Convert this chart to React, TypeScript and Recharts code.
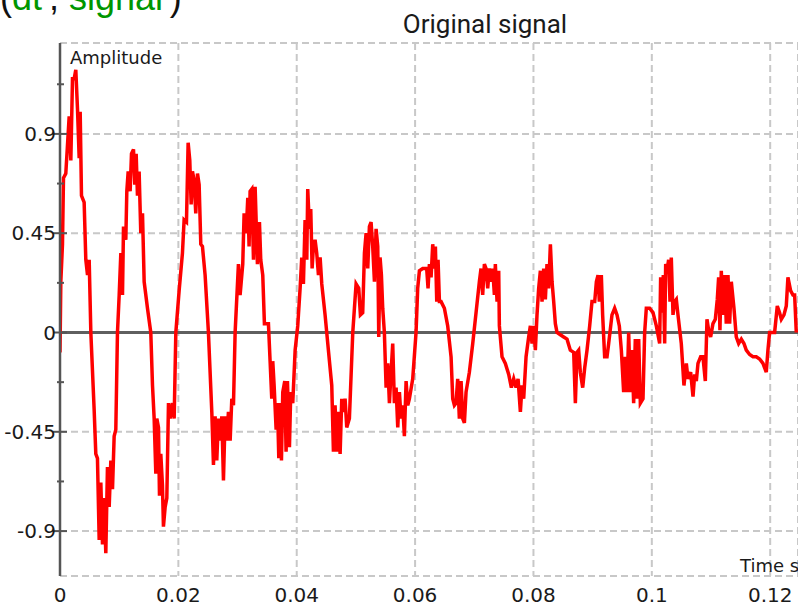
import { LineChart, Line, XAxis, YAxis, CartesianGrid, ReferenceLine } from 'recharts';

// axis setup
const xTicks = [0, 0.02, 0.04, 0.06, 0.08, 0.1, 0.12];
const yMajor = [-0.9, -0.45, 0, 0.45, 0.9];
const yMinor = [-0.675, -0.225, 0.225, 0.675, 1.125];
const yGrid = [-0.9, -0.45, 0.45, 0.9];
const xDomain = [0, 0.1247];
const yDomain = [-1.1035, 1.312];

// [time s, amplitude], one array per stretch of the trace
const part1 = [
  [0, -0.09], [0.00014, 0.23], [0.00042, 0.4], [0.00059, 0.7], [0.00098, 0.72],
  [0.00155, 0.98], [0.00183, 0.78], [0.00211, 1.15], [0.00239, 1.15], [0.00267, 1.19],
  [0.00296, 1.01], [0.00324, 0.79], [0.00341, 1.0], [0.00363, 0.62], [0.00408, 0.59],
  [0.00436, 0.33], [0.00465, 0.26], [0.00493, 0.33], [0.00521, 0], [0.00577, -0.35],
  [0.00605, -0.55], [0.00633, -0.57], [0.00662, -0.94], [0.0069, -0.68], [0.00718, -0.96],
  [0.00746, -0.75], [0.00774, -1.0], [0.00802, -0.61], [0.00831, -0.79], [0.00859, -0.58],
  [0.00887, -0.71], [0.00915, -0.47], [0.00943, -0.44], [0.00971, 0], [0.01, 0.17],
  [0.01028, 0.36], [0.01056, 0.17], [0.01073, 0.48], [0.01112, 0.42], [0.01129, 0.64],
  [0.01152, 0.73], [0.01185, 0.64], [0.01208, 0.81], [0.01242, 0.83], [0.01264, 0.67],
  [0.01287, 0.81], [0.01309, 0.62], [0.01337, 0.73], [0.01365, 0.45], [0.01394, 0.54],
  [0.01422, 0.23], [0.01478, 0.11], [0.01534, 0], [0.01563, -0.24], [0.01591, -0.39],
  [0.01619, -0.64], [0.01636, -0.39], [0.01664, -0.43], [0.01681, -0.74], [0.01703, -0.55],
  [0.01731, -0.69], [0.01748, -0.88], [0.01777, -0.79], [0.01805, -0.75], [0.01833, -0.32],
  [0.01861, -0.39], [0.019, -0.32], [0.01929, -0.39], [0.01957, 0], [0.02013, 0.19],
  [0.02069, 0.36], [0.02097, 0.51], [0.02137, 0.5], [0.02165, 0.86], [0.02193, 0.78],
  [0.02216, 0.58], [0.02238, 0.73], [0.02266, 0.69], [0.02294, 0.54], [0.02323, 0.72],
  [0.02351, 0.67], [0.02379, 0.4], [0.02407, 0.39],
];

const part2 = [
  [0.02452, 0.26], [0.02508, 0], [0.02565, -0.36], [0.02593, -0.6], [0.02621, -0.38],
  [0.02649, -0.58], [0.02677, -0.39], [0.02706, -0.49], [0.02734, -0.38], [0.02762, -0.67],
  [0.0279, -0.38], [0.02818, -0.49], [0.02846, -0.36], [0.02875, -0.49], [0.02903, -0.3],
  [0.02931, -0.33], [0.02959, 0], [0.03015, 0.31], [0.03043, 0.17], [0.03088, 0.31],
  [0.03111, 0.54], [0.03145, 0.45], [0.03173, 0.61], [0.03195, 0.39], [0.03212, 0.64],
  [0.0324, 0.65], [0.03269, 0.33], [0.03297, 0.66], [0.03314, 0.51], [0.03336, 0.31],
  [0.0337, 0.5], [0.03392, 0.33], [0.03426, 0.26], [0.03454, 0.04], [0.03522, 0.04],
  [0.0355, -0.13], [0.03578, -0.3], [0.03595, -0.13], [0.03618, -0.24], [0.03652, -0.44],
  [0.03674, -0.32], [0.03697, -0.57], [0.03719, -0.32], [0.03742, -0.58], [0.03764, -0.27],
  [0.03798, -0.22], [0.0382, -0.54], [0.03843, -0.22], [0.03877, -0.52], [0.03899, -0.27],
  [0.03933, -0.32], [0.03973, -0.08], [0.04017, 0.03], [0.04057, 0.2], [0.04085, 0.34],
  [0.04113, 0.22], [0.04141, 0.51], [0.0417, 0.33], [0.04186, 0.65], [0.04215, 0.47],
  [0.04237, 0.56], [0.0426, 0.29], [0.04282, 0.39], [0.0431, 0.42], [0.04338, 0.36],
  [0.04367, 0.26], [0.04395, 0.34], [0.04423, 0.22], [0.04479, 0.08], [0.04535, -0.08],
  [0.04592, -0.24], [0.0462, -0.54], [0.04648, -0.33], [0.04676, -0.54], [0.04704, -0.36],
  [0.04733, -0.55], [0.04761, -0.3], [0.04789, -0.36], [0.04817, -0.3], [0.04845, -0.43],
];

const part3 = [
  [0.0489, -0.39], [0.04947, 0], [0.04975, 0.11], [0.05003, 0.22], [0.05048, 0.2],
  [0.05076, 0.08], [0.05115, 0.09], [0.05144, 0.36], [0.05172, 0.45], [0.052, 0.29],
  [0.05228, 0.48], [0.05256, 0.5], [0.05284, 0.39], [0.05313, 0.23], [0.05341, 0.47],
  [0.05369, 0.39], [0.05386, -0.02], [0.05408, 0.34], [0.05431, 0.26], [0.05453, 0.11],
  [0.05481, 0], [0.0551, -0.25], [0.05538, -0.14], [0.05566, -0.32], [0.05594, -0.18],
  [0.05622, -0.05], [0.0565, -0.32], [0.05679, -0.25], [0.05707, -0.43], [0.05735, -0.27],
  [0.05763, -0.39], [0.05791, -0.33], [0.05819, -0.47], [0.05848, -0.22], [0.05876, -0.33],
  [0.05904, -0.3], [0.0596, -0.21], [0.06016, 0], [0.06044, 0.2], [0.06073, 0.28],
  [0.06129, 0.29], [0.06196, 0.29], [0.06219, 0.2], [0.06242, 0.31], [0.0627, 0.25],
  [0.06298, 0.4], [0.06326, 0.29], [0.06343, 0.39], [0.06366, 0.14], [0.06388, 0.33],
  [0.06411, 0.14], [0.06439, 0.14], [0.06495, 0.11], [0.06551, 0.03], [0.06608, -0.11],
  [0.06636, -0.3], [0.06664, -0.33], [0.06692, -0.32], [0.0672, -0.21], [0.06748, -0.39],
  [0.06777, -0.22], [0.06805, -0.39], [0.06833, -0.41], [0.06861, -0.27], [0.06917, -0.18],
  [0.06974, -0.05], [0.0703, 0.09], [0.07086, 0.23], [0.07114, 0.29], [0.07142, 0.17],
  [0.07171, 0.31], [0.07199, 0.29], [0.07227, 0.2], [0.07255, 0.29], [0.07283, 0.23],
  [0.07311, 0.29], [0.0734, 0.17],
];

const part4 = [
  [0.07356, 0.31], [0.07385, 0.14], [0.07413, 0.28], [0.07424, 0.03], [0.07469, -0.11],
  [0.07525, -0.14], [0.07582, -0.19], [0.07627, -0.25], [0.07666, -0.21], [0.07706, -0.25],
  [0.0774, -0.21], [0.07779, -0.36], [0.07807, -0.24], [0.07835, -0.3], [0.07875, -0.11],
  [0.07919, -0.02], [0.07948, 0.03], [0.07976, -0.05], [0.08004, 0.03], [0.08032, -0.08],
  [0.0806, 0.08], [0.08088, 0.2], [0.08117, 0.28], [0.08145, 0.14], [0.08173, 0.29],
  [0.08201, 0.15], [0.08229, 0.31], [0.08257, 0.2], [0.08286, 0.4], [0.08314, 0.23],
  [0.08342, 0.14], [0.0837, 0.04], [0.08398, 0], [0.08454, -0.01], [0.08511, -0.02],
  [0.08567, -0.03], [0.08623, -0.08], [0.0868, -0.09], [0.08708, -0.32], [0.08736, -0.09],
  [0.08764, -0.08], [0.08792, -0.18], [0.08832, -0.25], [0.08866, -0.16], [0.08905, -0.08],
  [0.0895, 0.03], [0.08989, 0.14], [0.09035, 0.14], [0.09063, 0.23], [0.09091, 0.26],
  [0.09113, 0.14], [0.09147, 0.26], [0.09169, 0.08], [0.09203, -0.11], [0.09243, -0.11],
  [0.09271, -0.05], [0.09327, 0.08], [0.09372, 0.11], [0.09412, 0.08], [0.09451, 0.03],
  [0.09485, -0.08], [0.09524, -0.27], [0.09552, -0.11], [0.0958, -0.27], [0.09609, 0],
  [0.09637, -0.27], [0.09665, -0.08], [0.09693, -0.32], [0.09721, -0.03], [0.0975, -0.3],
  [0.09778, -0.03], [0.09806, -0.32],
];

const part5 = [
  [0.09851, -0.3], [0.09879, 0], [0.09907, 0.11], [0.09963, 0.11], [0.1002, 0.09],
  [0.10076, 0.03], [0.10132, -0.05], [0.10149, 0.25], [0.10172, 0.09], [0.10194, 0.26],
  [0.10217, -0.05], [0.10234, 0.31], [0.10262, 0.29], [0.10284, 0.33], [0.10307, 0.14],
  [0.10329, 0.34], [0.10358, 0.08], [0.10386, 0.14], [0.10414, 0.15], [0.10442, 0.08],
  [0.10498, -0.05], [0.10543, -0.24], [0.10583, -0.14], [0.10611, -0.21], [0.10656, -0.18],
  [0.10696, -0.29], [0.10724, -0.19], [0.10752, -0.22], [0.1078, -0.14], [0.10825, -0.11],
  [0.10864, -0.11], [0.10904, -0.22], [0.10932, 0.06], [0.1096, 0.01], [0.10994, -0.02],
  [0.11033, 0.04], [0.11073, 0.06], [0.11106, 0.15], [0.11129, 0.25], [0.11151, 0.01],
  [0.11174, 0.28], [0.11202, 0.08], [0.1123, 0.26], [0.11258, 0.04], [0.11287, 0.26],
  [0.11315, 0.04], [0.11343, 0.23], [0.11388, 0.11], [0.11427, -0.02], [0.11467, -0.05],
  [0.11512, -0.03], [0.11557, -0.05], [0.11596, -0.08], [0.11653, -0.1], [0.11709, -0.11],
  [0.11765, -0.11], [0.11821, -0.12], [0.11878, -0.14], [0.11934, -0.18], [0.11962, -0.08],
  [0.1199, 0], [0.1203, 0], [0.12075, 0], [0.1212, 0.12], [0.12159, 0.09],
  [0.12188, 0.06], [0.12233, 0.08], [0.12272, 0.12], [0.123, 0.25], [0.12345, 0.19],
  [0.12385, 0.17], [0.12413, 0.17], [0.12441, 0],
];

const signal = [...part1, ...part2, ...part3, ...part4, ...part5].map(([t, v]) => ({ t, v }));

const tickFont = { fontFamily: 'DejaVu Sans', fontSize: 20, fill: '#1a1a1a' };

function YTick(props: any) {
  const { x, y, payload } = props;
  const major = yMajor.includes(payload.value);
  const ax = x + 4;
  return (
    <g>
      <line x1={ax - (major ? 7 : 3)} x2={ax + (major ? 7 : 4)} y1={y} y2={y} stroke="#555" strokeWidth={2} />
      {major && (
        <text x={x} y={y} dy="0.36em" textAnchor="end" {...tickFont}>
          {String(payload.value)}
        </text>
      )}
    </g>
  );
}

export default function App() {
  return (
    <div style={{ position: 'absolute', left: 0, top: 0, width: 798, height: 606, overflow: 'hidden', background: '#fff' }}>
      <LineChart width={798} height={606} data={signal} margin={{ top: 43, right: 0, bottom: 0, left: 0 }}>
        <CartesianGrid horizontal={false} stroke="#c8c8c8" strokeWidth={2} strokeDasharray="7 4" />
        {yGrid.map((g) => (
          <ReferenceLine key={g} y={g} stroke="#c8c8c8" strokeWidth={2} strokeDasharray="7 4" />
        ))}
        <ReferenceLine y={yDomain[1]} stroke="#c8c8c8" strokeWidth={2} strokeDasharray="7 4" />
        <ReferenceLine y={yDomain[0]} stroke="#c8c8c8" strokeWidth={2} strokeDasharray="7 4" />
        <XAxis
          dataKey="t"
          type="number"
          domain={xDomain}
          ticks={xTicks}
          interval={0}
          height={30}
          axisLine={false}
          tickLine={false}
          tickSize={0}
          tickMargin={12}
          tick={tickFont}
          allowDataOverflow
        />
        <YAxis
          type="number"
          domain={yDomain}
          ticks={[...yMajor, ...yMinor]}
          interval={0}
          width={60}
          axisLine={{ stroke: '#555', strokeWidth: 2.5 }}
          tickLine={false}
          tickSize={0}
          tickMargin={4}
          tick={<YTick />}
          allowDataOverflow
        />
        <ReferenceLine y={0} stroke="#5f5f5f" strokeWidth={3} />
        <Line
          dataKey="v"
          type="linear"
          stroke="#ff0000"
          strokeWidth={3.5}
          dot={false}
          isAnimationActive={false}
        />
      </LineChart>
      <svg width={798} height={606} style={{ position: 'absolute', left: 0, top: 0, pointerEvents: 'none' }}>
        <text x={0} y={10} fontFamily="Liberation Sans" fontSize={36}>
          <tspan fill="#111">(</tspan>
          <tspan fill="#009600">dt</tspan>
          <tspan fill="#111">', </tspan>
          <tspan fill="#009600">signal</tspan>
          <tspan fill="#111">')</tspan>
        </text>
        <text x={485} y={33} textAnchor="middle" fontFamily="Roboto" fontSize={26} fill="#1a1a1a">
          Original signal
        </text>
        <text x={70} y={64} fontFamily="DejaVu Sans" fontSize={18} fill="#1a1a1a">
          Amplitude
        </text>
        <text x={740} y={572} fontFamily="DejaVu Sans" fontSize={18} fill="#1a1a1a">
          Time sec
        </text>
      </svg>
    </div>
  );
}
